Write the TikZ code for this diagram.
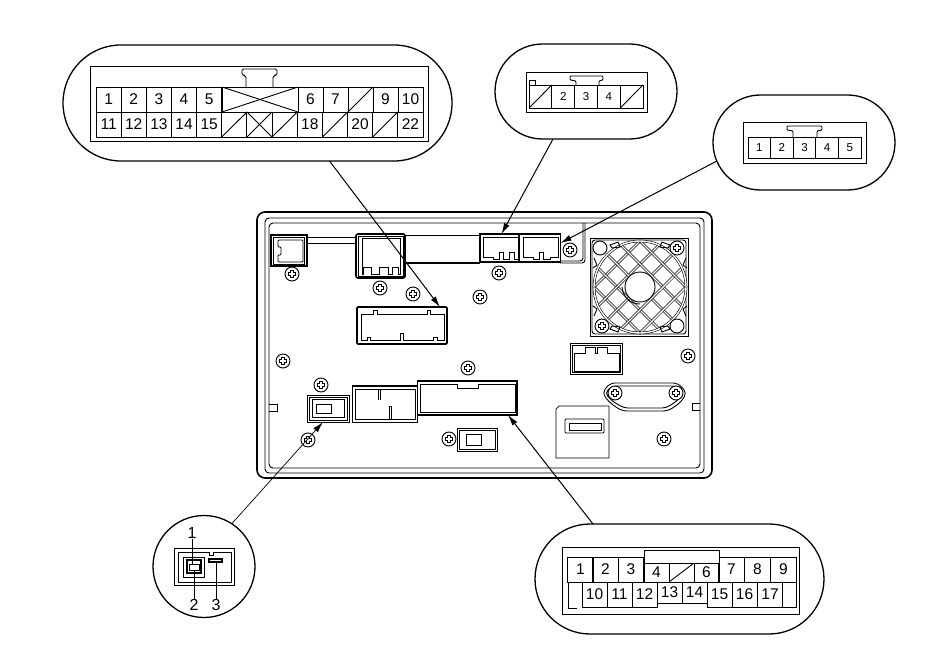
\documentclass[tikz,border=0pt]{standalone}
\usepackage{fontspec}
\setmainfont{Liberation Sans}
\usetikzlibrary{arrows.meta}
\usetikzlibrary{shapes.misc}
\tikzset{
    bubble/.style={draw,rounded rectangle,line width=1.3pt,inner sep=0pt,outer sep=0pt},
    housing/.style={draw,fill=white,inner sep=0pt,outer sep=0pt},
    cell/.style={draw,inner sep=0pt,outer sep=0pt,font=\fontsize{15.5}{15.5}\selectfont},
    smallcell/.style={cell,font=\fontsize{11.5}{11.5}\selectfont},
    slash/.style={path picture={\draw (path picture bounding box.south west) -- (path picture bounding box.north east);}},
    crossed/.style={path picture={\draw (path picture bounding box.north west) -- (path picture bounding box.south east);
        \draw (path picture bounding box.south west) -- (path picture bounding box.north east);}},
    slashcell/.style={cell,slash},
    crosscell/.style={cell,crossed},
    smallslash/.style={smallcell,slash},
    plug/.style={draw,fill=white,line width=1.6pt,inner sep=0pt,outer sep=0pt},
    leader/.style={-{Latex[length=11pt,width=6pt]},line width=1pt},
    grille/.style={double,double distance=1.4pt,line width=.6pt},
    screw/.pic={
        \draw[fill=white,line width=.9pt] (0,0) circle (7pt);
        \draw[line width=.9pt] (-3.6,-1.3) -- (-1.3,-1.3) -- (-1.3,-3.6) -- (1.3,-3.6) -- (1.3,-1.3) -- (3.6,-1.3)
            -- (3.6,1.3) -- (1.3,1.3) -- (1.3,3.6) -- (-1.3,3.6) -- (-1.3,1.3) -- (-3.6,1.3) -- cycle;
    }
}
\begin{document}
\begin{tikzpicture}[x=1pt,y=-1pt,line width=.9pt]
    \useasboundingbox (0,0) rectangle (950,655);
    \draw[line width=1.6pt,rounded corners=8pt] (257,212) rectangle (712,478);
    \draw[rounded corners=4pt] (265,218) rectangle (704,473);
    \draw[rounded corners=4pt] (269,223) rectangle (700,468);
    \draw (269,404) -- (277,404) -- (277,411) -- (269,411);
    \draw (700,403) -- (692,403) -- (692,410) -- (700,410);

    \draw (307,237) rectangle (356,243);
    \draw (405,235) -- (480,235);
    \draw[line width=1.6pt] (405,263) -- (480,263);
    \draw[rounded corners=3pt] (560,263) -- (585,263) -- (585,223);
    \draw[rounded corners=3pt] (560,261) -- (583,261) -- (583,223);

    \node[plug,minimum width=36pt,minimum height=31pt] (plugA) at (289,250.5) {};
    \draw (273,237) rectangle (304,264);
    \draw[rounded corners=1pt] (278,240) -- (303,240) -- (303,262) -- (278,262) -- (278,255) -- (281,255) -- (281,247) -- (278,247) -- cycle;
    \node[plug,rounded corners=2pt,minimum width=49pt,minimum height=44pt] (plugB) at (380.5,256) {};
    \draw (358,236) rectangle (403,276);
    \draw (362,238) -- (400,238) -- (400,274) -- (398,274) -- (398,267) -- (392,267) -- (392,274) -- (388,274) -- (388,267)
        -- (379,267) -- (379,274) -- (371,274) -- (371,267) -- (363,267) -- (363,274) -- (362,274) -- cycle;
    \node[plug,minimum width=39pt,minimum height=28pt] (plugC) at (499.5,248) {};
    \draw (483,237) -- (518,237) -- (518,259) -- (514,259) -- (514,252) -- (509,252) -- (509,259) -- (503,259) -- (503,252)
        -- (499,252) -- (499,259) -- (493,259) -- (493,257) -- (483,257) -- cycle;
    \node[plug,minimum width=41pt,minimum height=28pt] (plugD) at (540,248) {};
    \draw (523,237) -- (558,237) -- (558,257) -- (550,257) -- (550,259) -- (543,259) -- (543,252) -- (539,252) -- (539,259)
        -- (533,259) -- (533,257) -- (523,257) -- cycle;
    \node[plug,rounded corners=1pt,minimum width=90pt,minimum height=37pt] (plugE) at (402,325.5) {};
    \draw (361,314) -- (373,314) -- (373,310) -- (377,310) -- (377,314) -- (427,314) -- (427,310) -- (430,310) -- (430,314) -- (444,314)
        -- (444,340) -- (437,340) -- (437,337) -- (433,337) -- (433,340) -- (403,340) -- (403,333) -- (400,333) -- (400,340)
        -- (370,340) -- (370,337) -- (367,337) -- (367,340) -- (361,340) -- cycle;
    \node[housing,minimum width=42pt,minimum height=27pt] (plugF) at (328,408.5) {};
    \draw (309,397) rectangle (347,420);
    \draw (312,399.5) rectangle (344.5,417.5);
    \draw (316,404) rectangle (331,413);
    \node[housing,minimum width=65pt,minimum height=36pt] (plugG) at (384.5,404) {};
    \draw[line width=1.8pt] (352,386) -- (417,386);
    \draw (355,389) rectangle (415,419);
    \draw (378,389) -- (378,400);
    \draw (380,389) -- (380,400);
    \draw (389,419) -- (389,406) -- (391,406) -- (391,419);
    \node[housing,minimum width=100pt,minimum height=34pt] (plugH) at (467,398) {};
    \draw[line width=1.8pt] (417,381) -- (517,381) -- (517,415) -- (417,415);
    \draw (420,384) -- (457,384) -- (457,388) -- (478,388) -- (478,384) -- (515,384) -- (515,412) -- (420,412) -- cycle;
    \node[housing,minimum width=40pt,minimum height=23pt] (plugI) at (477,439.5) {};
    \draw (459,430) rectangle (495,449);
    \draw (466,434) rectangle (481,445);
    \node[housing,minimum width=52pt,minimum height=31pt] (plugJ) at (596,358.5) {};
    \draw (572,345) rectangle (620,372);
    \draw (574,353) -- (585,353) -- (585,347) -- (595,347) -- (595,353) -- (597,353) -- (597,347) -- (607,347) -- (607,353) -- (619,353)
        -- (619,371) -- (574,371) -- cycle;

    \draw[rounded corners=5pt] (610,383) -- (678,383) -- (687,393) -- (680,403) -- (668,411) -- (622,411) -- (610,403) -- (602,393) -- cycle;
    \draw[rounded corners=4pt] (612,386) -- (676,386) -- (684,393) -- (677,401) -- (666,408) -- (624,408) -- (612,401) -- (605,393) -- cycle;
    \draw[line width=.7pt] (559,406) -- (609,406) -- (609,458) -- (556,458) -- (556,409) -- cycle;
    \draw[rounded corners=1pt] (565,419) rectangle (604,433);
    \draw (569,423) rectangle (601,430);

    \draw (590,238) rectangle (688,336);
    \draw[rounded corners=3pt] (592,240) rectangle (686,334);
    \begin{scope}
        \clip (640,287) circle (46pt);
        \foreach \d in {-46,-23,0,23,46} {
            \draw[grille] (560+\d,207) -- (720+\d,367);
            \draw[grille] (720+\d,207) -- (560+\d,367);
        }
    \end{scope}
    \draw[grille] (640,287) circle (46pt);
    \draw[fill=white] (640,287) circle (15pt);
    \draw (622,287) .. controls (623,297) and (630,304) .. (640,304);
    \foreach \s/\t in {1/1,1/-1,-1/1,-1/-1} {
        \begin{scope}[shift={(640,287)},xscale=\s,yscale=\t]
            \draw (-30,-42) -- (-22,-45) -- (-20,-40) -- (-28,-39) -- cycle;
            \draw (-46,-29) -- (-43,-22) -- (-47,-19);
        \end{scope}
    }
    \draw[fill=white] (600,248) circle (7pt);
    \draw[fill=white] (677,326) circle (7pt);

    \foreach \x/\y in {292/274,380/288,413/294,480/297,499/273,570/250,283/361,321/385,468/368,308/440,449/439,688/356,664/439,615/393,676/393,677/248,602/326} {
        \pic at (\x,\y) {screw};
    }

    \node[bubble,minimum width=389pt,minimum height=116pt] (bubA) at (257.5,103) {};
    \node[housing,minimum width=338pt,minimum height=75pt] (conA) at (259,103.5) {};
    \foreach \t [count=\i from 0] in {1,2,3,4,5} {
        \node[cell,minimum width=25.15pt,minimum height=25pt] (a\t) at ({108.6+25.15*\i},99.5) {\t};
    }
    \node[crosscell,minimum width=76pt,minimum height=25pt] (aw) at (260,99.5) {};
    \foreach \t/\k [count=\i from 0] in {6/cell,7/cell,{}/slashcell,9/cell,10/cell} {
        \node[\k,minimum width=25pt,minimum height=25pt] (ar\i) at ({310.5+25*\i},99.5) {\t};
    }
    \foreach \t/\k [count=\i from 0] in {11/cell,12/cell,13/cell,14/cell,15/cell,{}/slashcell,{}/crosscell,{}/slashcell,18/cell,{}/slashcell,20/cell,{}/slashcell,22/cell} {
        \node[\k,minimum width=25.15pt,minimum height=25pt] (b\i) at ({108.6+25.15*\i},124.5) {\t};
    }
    \draw[fill=white,rounded corners=1.5pt] (246,87) -- (246,76) -- (242,75) -- (242,69) -- (277,69) -- (277,75) -- (273,76) -- (273,87);

    \node[bubble,minimum width=182pt,minimum height=95pt] (bubB) at (586,91.5) {};
    \node[housing,minimum width=121pt,minimum height=40pt] (conB) at (586.5,92) {};
    \foreach \t/\k [count=\i from 0] in {{}/smallslash,2/smallcell,3/smallcell,4/smallcell,{}/smallslash} {
        \node[\k,minimum width=22.8pt,minimum height=23pt] (c\i) at ({540.4+22.8*\i},96.5) {\t};
    }
    \draw (529,85) -- (529,80) -- (535,80) -- (535,85);
    \draw[fill=white,rounded corners=1pt] (576,85) -- (576,81) -- (570,80) -- (570,76) -- (603,76) -- (603,80) -- (599,81) -- (599,85);

    \node[bubble,minimum width=182pt,minimum height=95pt] (bubC) at (804,142.5) {};
    \node[housing,minimum width=123pt,minimum height=41pt] (conC) at (804.5,142.5) {};
    \foreach \t [count=\i from 0] in {1,2,3,4,5} {
        \node[smallcell,minimum width=22.6pt,minimum height=21pt] (d\t) at ({759.3+22.6*\i},147.5) {\t};
    }
    \draw[fill=white,rounded corners=1pt] (793,137) -- (793,131) -- (787,130) -- (787,126) -- (822,126) -- (822,130) -- (817,131) -- (817,137);

    \node[draw,circle,line width=1.3pt,inner sep=0pt,outer sep=0pt,minimum size=102pt] (bubD) at (204,566.5) {};
    \node[housing,minimum width=60pt,minimum height=37pt] (conD) at (204,566.5) {};
    \draw (178,552) -- (209,552) -- (209,555) -- (213,555) -- (213,552) -- (231,552) -- (231,582) -- (178,582) -- cycle;
    \draw (183,557) rectangle (204,577);
    \draw[line width=1.4pt] (187,560) rectangle (201,573);
    \draw (189,564) rectangle (199,570);
    \draw[line width=1.2pt] (209,559) rectangle (222,562);
    \node[font=\fontsize{16}{16}\selectfont,inner sep=0pt] (lblOne) at (192,533) {1};
    \node[font=\fontsize{16}{16}\selectfont,inner sep=0pt] (lblTwo) at (194,605) {2};
    \node[font=\fontsize{16}{16}\selectfont,inner sep=0pt] (lblThree) at (216,605) {3};
    \draw (lblOne.south) -- (192,564);
    \draw (lblTwo.north) -- (194,570);
    \draw (lblThree.north) -- (216,562);

    \node[bubble,minimum width=289pt,minimum height=110pt] (bubE) at (679.5,579) {};
    \node[housing,minimum width=237pt,minimum height=67pt] (conE) at (680.5,580.5) {};
    \foreach \t/\cx [count=\i from 0] in {1/580.5,2/605.5,3/631,7/731.5,8/757.5,9/783.5} {
        \node[cell,minimum width=25.5pt,minimum height=25pt] (e\t) at (\cx,569.5) {\t};
    }
    \node[cell,minimum width=75pt,minimum height=13pt,fill=white] (eTop) at (681.5,556.5) {};
    \foreach \t/\k [count=\i from 0] in {4/cell,{}/slashcell,6/cell} {
        \node[\k,minimum width=25pt,minimum height=19pt] (f\i) at ({656.5+25*\i},572.5) {\t};
    }
    \foreach \t/\cx in {10/594.5,11/619.5,12/644.5,15/719.5,16/744.5,17/770} {
        \node[cell,minimum width=25pt,minimum height=25pt] (e\t) at (\cx,594.5) {\t};
    }
    \foreach \t/\cx in {13/669.5,14/694.5} {
        \node[cell,minimum width=25pt,minimum height=21pt] (e\t) at (\cx,592.5) {\t};
    }
    \draw (568,582) -- (568,608) -- (577,608);
    \draw (783,582) -- (796,582) -- (796,607) -- (783,607);

    \draw[leader] ([xshift=72pt]bubA.south) -- ([xshift=-7pt]plugE.north east);
    \draw[leader] ([xshift=-33pt]bubB.south) -- ([xshift=2pt]plugC.north);
    \draw[leader] (bubC.192) -- ([yshift=5pt]plugD.east);
    \draw[leader,line width=.7pt] (bubD.57) -- ([xshift=-5pt]plugF.south);
    \draw[leader] ([xshift=-86.5pt]bubE.north) -- ([xshift=-9pt]plugH.south east);
\end{tikzpicture}
\end{document}
